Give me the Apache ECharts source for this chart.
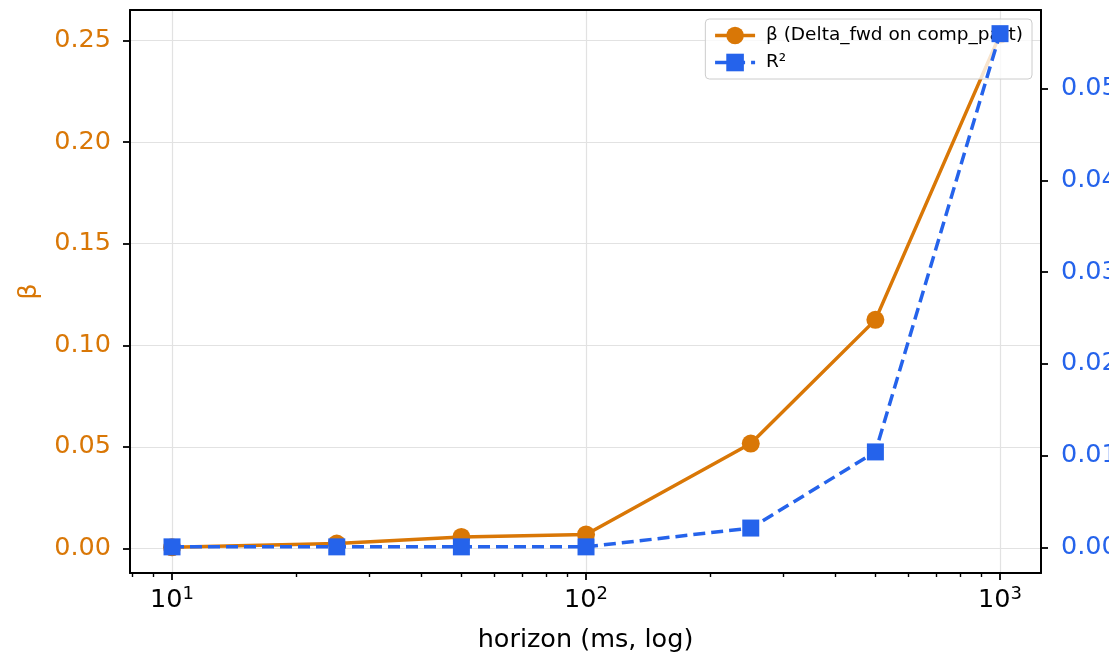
<!DOCTYPE html>
<html><head><meta charset="utf-8">
<script src="https://cdn.jsdelivr.net/npm/echarts@6/dist/echarts.min.js"></script>
<style>html,body{margin:0;padding:0;background:#fff}#c{width:1109px;height:656px}</style>
</head><body><div id="c"></div>
<script>
const horizons = [10, 25, 50, 100, 250, 500, 1000];
const betaValues = [0.0005, 0.0023, 0.0056, 0.0068, 0.0516, 0.1125, 0.253];
const r2Values = [0.00005, 0.00005, 0.00005, 0.00005, 0.0021, 0.0104, 0.056];
const xMajorTicks = [10, 100, 1000];
const xMinorTicks = [8, 9, 20, 30, 40, 50, 60, 70, 80, 90, 200, 300, 400, 500, 600, 700, 800, 900];
const betaTicks = [0, 0.05, 0.10, 0.15, 0.20, 0.25];
const r2Ticks = [0, 0.01, 0.02, 0.03, 0.04, 0.05];
const betaName = 'β (Delta_fwd on comp_part)';
const r2Name = 'R²';
const xName = 'horizon (ms, log)';
const yName = 'β';

const ORANGE = '#D97706', BLUE = '#2563EB', FONT = 'DejaVu Sans';
const X_MIN = 7.916, X_MAX = 1256;

const chart = echarts.init(document.getElementById('c'), null, {renderer: 'canvas'});
const spine = {show: true, onZero: false, lineStyle: {color: '#000', width: 2}};
const gridLine = {show: true, lineStyle: {color: '#e2e2e2', width: 1.2}};

chart.setOption({
  animation: false,
  textStyle: {fontFamily: FONT},
  grid: {left: 130, right: 68, top: 10, bottom: 83, containLabel: false, outerBoundsMode: 'none'},
  legend: {
    orient: 'vertical', right: 77, top: 19,
    padding: [7, 9, 7, 8], itemWidth: 40, itemHeight: 22, itemGap: 8,
    backgroundColor: 'rgba(255,255,255,0.8)', borderColor: '#cccccc', borderWidth: 1, borderRadius: 4,
    textStyle: {fontSize: 18.5, color: '#000', fontFamily: FONT},
    lineStyle: {width: 3.5},
    formatter: n => ' ' + n,
    data: [betaName, r2Name], z: 4
  },
  xAxis: [
    {
      type: 'log', logBase: 10, min: X_MIN, max: X_MAX, position: 'bottom',
      axisLine: spine,
      axisTick: {show: true, length: 7, lineStyle: {color: '#000', width: 1.8}, customValues: xMajorTicks},
      axisLabel: {
        customValues: xMajorTicks, margin: 12, color: '#000',
        formatter: v => '{b|10}{s|' + Math.round(Math.log10(v)) + '}',
        rich: {
          b: {fontSize: 25.5, fontFamily: FONT, color: '#000', lineHeight: 30},
          s: {fontSize: 18, fontFamily: FONT, color: '#000', verticalAlign: 'top', lineHeight: 17}
        }
      },
      splitLine: gridLine, minorTick: {show: false}, minorSplitLine: {show: false},
      name: xName, nameLocation: 'middle', nameGap: 54,
      nameTextStyle: {fontSize: 25.5, color: '#000', fontFamily: FONT}
    },
    {
      type: 'log', logBase: 10, min: X_MIN, max: X_MAX, position: 'bottom',
      axisLine: {show: false, onZero: false},
      axisTick: {show: true, length: 4, lineStyle: {color: '#000', width: 1.4}, customValues: xMinorTicks},
      axisLabel: {show: false}, splitLine: {show: false}
    },
    {
      type: 'log', logBase: 10, min: X_MIN, max: X_MAX, position: 'top',
      axisLine: spine, axisTick: {show: false}, axisLabel: {show: false}, splitLine: {show: false}
    }
  ],
  yAxis: [
    {
      type: 'value', min: -0.01217, max: 0.26512, position: 'left',
      axisLine: spine,
      axisTick: {show: true, length: 7, lineStyle: {color: '#000', width: 1.8}, customValues: betaTicks},
      axisLabel: {customValues: betaTicks, margin: 19, color: ORANGE, fontSize: 25.5, fontFamily: FONT, formatter: v => v.toFixed(2)},
      splitLine: gridLine,
      name: yName, nameLocation: 'middle', nameRotate: 90, nameGap: 88,
      nameTextStyle: {fontSize: 25.5, color: ORANGE, fontFamily: FONT}
    },
    {
      type: 'value', min: -0.0028, max: 0.05858, position: 'right',
      axisLine: spine,
      axisTick: {show: true, length: 7, lineStyle: {color: '#000', width: 1.8}, customValues: r2Ticks},
      axisLabel: {customValues: r2Ticks, margin: 20, color: BLUE, fontSize: 25.5, fontFamily: FONT, formatter: v => v.toFixed(2)},
      splitLine: {show: false}
    }
  ],
  series: [
    {
      name: betaName, type: 'line', xAxisIndex: 0, yAxisIndex: 0, z: 2,
      data: horizons.map((h, i) => [h, betaValues[i]]),
      symbol: 'circle', symbolSize: 18, showSymbol: true,
      lineStyle: {color: ORANGE, width: 3.5}, itemStyle: {color: ORANGE}, color: ORANGE
    },
    {
      name: r2Name, type: 'line', xAxisIndex: 0, yAxisIndex: 1, z: 6,
      data: horizons.map((h, i) => [h, r2Values[i]]),
      symbol: 'rect', symbolSize: 17, showSymbol: true,
      lineStyle: {color: BLUE, width: 3.5, type: [12, 6]}, itemStyle: {color: BLUE}, color: BLUE
    }
  ]
});
</script></body></html>
